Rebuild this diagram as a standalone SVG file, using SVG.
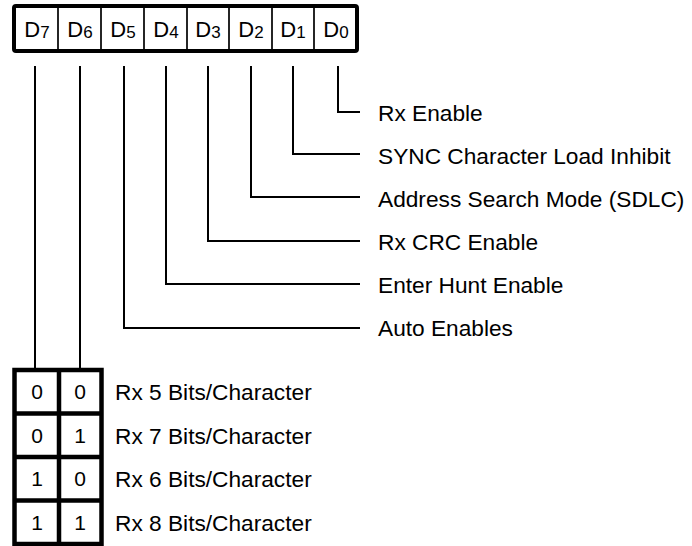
<svg xmlns="http://www.w3.org/2000/svg" width="692" height="546" viewBox="0 0 692 546">
<style>
text{font-family:"Liberation Sans",Arial,sans-serif;fill:#000}
.lbl{font-size:22.7px}
.bit{font-size:22px;text-anchor:middle}
.sub{font-size:17px}
.val{font-size:21px;text-anchor:middle}
.thin{stroke:#000;stroke-width:1.7;fill:none}
.wire{stroke:#000;stroke-width:2;fill:none}
.thick{stroke:#000;stroke-width:4.5;fill:none}
</style>
<rect width="692" height="546" fill="#fff"/>
<g id="register">
<rect x="14" y="6" width="343" height="45" rx="2" fill="#fff" stroke="#000" stroke-width="4"/>
<path class="thin" d="M58 8V49M101 8V49M144 8V49M187 8V49M229 8V49M272 8V49M314 8V49"/>
<text class="bit" x="37" y="37">D<tspan class="sub" dy="1">7</tspan></text>
<text class="bit" x="80" y="37">D<tspan class="sub" dy="1">6</tspan></text>
<text class="bit" x="123" y="37">D<tspan class="sub" dy="1">5</tspan></text>
<text class="bit" x="166" y="37">D<tspan class="sub" dy="1">4</tspan></text>
<text class="bit" x="208" y="37">D<tspan class="sub" dy="1">3</tspan></text>
<text class="bit" x="251" y="37">D<tspan class="sub" dy="1">2</tspan></text>
<text class="bit" x="293" y="37">D<tspan class="sub" dy="1">1</tspan></text>
<text class="bit" x="336" y="37">D<tspan class="sub" dy="1">0</tspan></text>
</g>
<g id="connectors">
<path class="wire" d="M338 66V112H360"/>
<path class="wire" d="M293 66V154H360"/>
<path class="wire" d="M251 66V197H360"/>
<path class="wire" d="M208 66V241H360"/>
<path class="wire" d="M166 66V284H360"/>
<path class="wire" d="M124 66V328H360"/>
<path class="wire" d="M35 66V370"/>
<path class="wire" d="M80 66V370"/>
</g>
<g id="label-d0"><text class="lbl" x="378" y="121">Rx Enable</text></g>
<g id="label-d1"><text class="lbl" x="378" y="164">SYNC Character Load Inhibit</text></g>
<g id="label-d2"><text class="lbl" x="378" y="207">Address Search Mode (SDLC)</text></g>
<g id="label-d3"><text class="lbl" x="378" y="250">Rx CRC Enable</text></g>
<g id="label-d4"><text class="lbl" x="378" y="293">Enter Hunt Enable</text></g>
<g id="label-d5"><text class="lbl" x="378" y="336">Auto Enables</text></g>
<g id="bits-table">
<rect x="14.5" y="370" width="87" height="174" fill="#fff" class="thick"/>
<path class="thick" d="M59 370V544M14.5 413.5H101.5M14.5 457H101.5M14.5 500.5H101.5"/>
<text class="val" x="37" y="399">0</text><text class="val" x="80" y="399">0</text>
<text class="val" x="37" y="443">0</text><text class="val" x="80" y="443">1</text>
<text class="val" x="37" y="486">1</text><text class="val" x="80" y="486">0</text>
<text class="val" x="37" y="530">1</text><text class="val" x="80" y="530">1</text>
<text class="lbl" x="115" y="400">Rx 5 Bits/Character</text>
<text class="lbl" x="115" y="444">Rx 7 Bits/Character</text>
<text class="lbl" x="115" y="487">Rx 6 Bits/Character</text>
<text class="lbl" x="115" y="531">Rx 8 Bits/Character</text>
</g>
</svg>
